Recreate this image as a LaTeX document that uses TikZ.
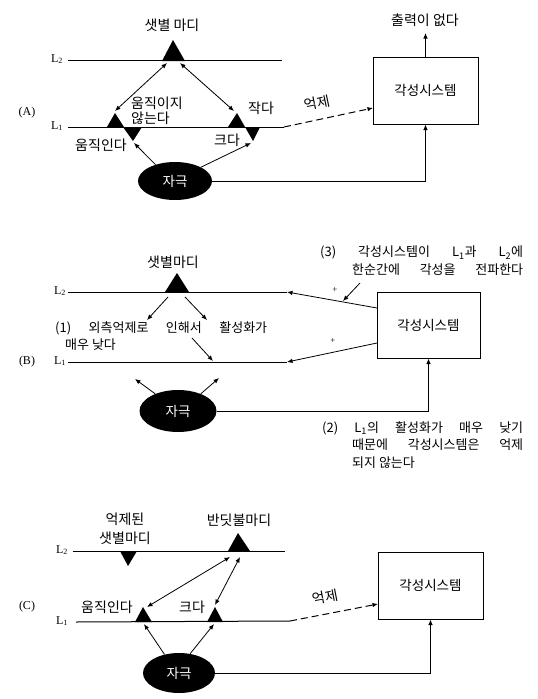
\documentclass[tikz,border=0pt]{standalone}
\usepackage{fontspec}
\setmainfont{Liberation Serif}
\newfontfamily\kr{Noto Sans CJK KR}
\usetikzlibrary{arrows.meta,shapes.geometric}
\begin{document}
\begin{tikzpicture}[x=1pt,y=-1pt,
  line/.style={line width=1pt},
  arr/.style={line width=0.8pt,-{Latex[length=5.5pt,width=4.5pt]}},
  darr/.style={line width=0.8pt,{Latex[length=5.5pt,width=4.5pt]}-{Latex[length=5.5pt,width=4.5pt]}},
  dasharr/.style={line width=1pt,dash pattern=on 7pt off 4pt,-{Latex[length=5.5pt,width=4.5pt]}},
  lab/.style={font=\kr\fontsize{14}{15}\selectfont, inner sep=0pt},
  para/.style={font=\kr\fontsize{13}{17.5}\selectfont, inner sep=0pt, align=left},
  lvl/.style={font=\fontsize{12}{14}\selectfont, inner sep=0pt},
  stim/.style={ellipse, fill=black, text=white, inner sep=0pt, font=\kr\fontsize{13.5}{15}\selectfont},
  sys/.style={draw, line width=1pt, inner sep=0pt, font=\kr\fontsize{13.5}{15}\selectfont}
]
\useasboundingbox[fill=white] (0,0) rectangle (538,699);

% ================= Panel A =================
\node[lvl] (A) at (27,113) {(A)};
\node[lvl] (LA2) at (57,59) {L\textsubscript{2}};
\node[lvl] (LA1) at (57,126) {L\textsubscript{1}};
\coordinate (a2s) at (68,60);  \coordinate (a2e) at (282,60);
\coordinate (a1s) at (68,127); \coordinate (a1e) at (284,127);
\draw[line] (a2s) -- (a2e);
\draw[line] (a1s) -- (a1e);
% triangles
\fill (162,61) -- (173,40) -- (185,61) -- cycle;
\fill (107,127) -- (115,113) -- (124,127) -- cycle;
\fill (123,127) -- (142,127) -- (133,141) -- cycle;
\fill (228,127) -- (237,113) -- (245,127) -- cycle;
\fill (245,127) -- (260,127) -- (253,141) -- cycle;
\coordinate (aTl) at (167,63); \coordinate (aTr) at (180,63);
\coordinate (aLup) at (115,111); \coordinate (aRup) at (234,111);
\coordinate (aLdn) at (134,143); \coordinate (aRdn) at (251,143);
\draw[darr] (aTl) -- (aLup);
\draw[darr] (aTr) -- (aRup);
\node[lab] (aTop) at (172,25) {샛별 마디};
\node[lab,align=left,anchor=west] (aNot) at (131,111) {움직이지\\않는다};
\node[lab] (aSmall) at (261,108) {작다};
\node[lab] (aMove) at (101,145) {움직인다};
\node[lab] (aBig) at (227,140) {크다};
% stimulus
\node[stim, minimum width=74pt, minimum height=38pt] (sA) at (175,181) {자극};
\draw[arr] (sA.140) -- (aLdn);
\draw[arr] (sA.28) -- (aRdn);
% arousal system
\node[sys, minimum width=105pt, minimum height=67pt] (bA) at (425.5,90.5) {각성시스템};
\draw[arr] (sA.east) -| (bA.south);
\coordinate (bAin) at (373,108);
\draw[dasharr] (a1e) -- (bAin);
\node[lab, rotate=12] (aInh) at (317,103) {억제};
\coordinate (aOut) at (425.5,33);
\draw[arr] (bA.north) -- (aOut);
\node[lab] (aNone) at (425,20) {출력이 없다};

% ================= Panel B =================
\node[lvl] (B) at (27,362) {(B)};
\node[lvl] (LB2) at (60,291) {L\textsubscript{2}};
\node[lvl] (LB1) at (60,361) {L\textsubscript{1}};
\coordinate (b2s) at (68,292);  \coordinate (b2e) at (287,292);
\coordinate (b1s) at (68,362);  \coordinate (b1e) at (287,362);
\draw[line] (b2s) -- (b2e);
\draw[line] (b1s) -- (b1e);
\fill (165,292) -- (177,273) -- (189,292) -- cycle;
\node[lab] (bTop) at (173,262) {샛별마디};
\coordinate (bTl) at (168,297); \coordinate (bTr) at (185,297);
\coordinate (bLt) at (147,320); \coordinate (bRt) at (207,320);
\draw[arr] (bTl) -- (bLt);
\draw[arr] (bTr) -- (bRt);
\node[para, anchor=north west] (t1) at (55,321)
  {\makebox[212pt][s]{(1) 외측억제로 인해서 활성화가}\\\hspace*{10pt}매우 낮다};
\coordinate (t1a) at (192,338); \coordinate (t1b) at (213,361);
\draw[arr] (t1a) -- (t1b);
\node[stim, minimum width=77pt, minimum height=42pt] (sB) at (178,411) {자극};
\coordinate (bLs) at (135,379); \coordinate (bRs) at (219,378);
\draw[arr] (sB.143) -- (bLs);
\draw[arr] (sB.37) -- (bRs);
\node[sys, minimum width=103pt, minimum height=66pt] (bB) at (428.5,325) {각성시스템};
\draw[arr] (sB.east) -| (bB.south);
\coordinate (bBo1) at (377,308); \coordinate (bBo2) at (377,343);
\draw[arr] (bBo1) -- (b2e);
\draw[arr] (bBo2) -- (b1e);
\node[lvl, font=\fontsize{9}{10}\selectfont] (p1) at (335,290) {+};
\node[lvl, font=\fontsize{9}{10}\selectfont] (p2) at (333,341) {+};
\node[para, anchor=north west] (t3) at (320,246)
  {\makebox[203pt][s]{(3) 각성시스템이 L\textsubscript{1}과 L\textsubscript{2}에}\\
   \hspace*{32pt}\makebox[171pt][s]{한순간에 각성을 전파한다}};
\coordinate (t3a) at (360,283); \coordinate (t3b) at (343,301);
\draw[arr] (t3a) -- (t3b);
\node[para, anchor=north west] (t2) at (322,421)
  {\makebox[201pt][s]{(2) L\textsubscript{1}의 활성화가 매우 낮기}\\
   \hspace*{30pt}\makebox[171pt][s]{때문에 각성시스템은 억제}\\
   \hspace*{30pt}되지 않는다};

% ================= Panel C =================
\node[lvl] (C) at (27,607) {(C)};
\node[lvl] (LC2) at (62,550) {L\textsubscript{2}};
\node[lvl] (LC1) at (62,621) {L\textsubscript{1}};
\coordinate (c2s) at (73,551);  \coordinate (c2e) at (285,551);
\coordinate (c1s) at (76,622);  \coordinate (c1e) at (290,621);
\draw[line] (c2s) -- (c2e);
\draw[line] (c1s) -- (c1e);
\fill (120,551) -- (137,551) -- (128,566) -- cycle;
\fill (228,551) -- (238,533) -- (250,551) -- cycle;
\fill (135,622) -- (143,607) -- (152,622) -- cycle;
\fill (207,622) -- (215,607) -- (223,622) -- cycle;
\node[lab, align=center, font=\kr\fontsize{14}{19}\selectfont] (cInhT) at (125,529) {억제된\\샛별마디};
\node[lab] (cFire) at (239,520) {반딧불마디};
\node[lab] (cMove) at (107,607) {움직인다};
\node[lab] (cBig) at (192,607) {크다};
\coordinate (cT1) at (230,557); \coordinate (cT2) at (240,557);
\coordinate (cL) at (147,607); \coordinate (cR) at (215,605);
\draw[darr] (cT1) -- (cL);
\draw[darr] (cT2) -- (cR);
\node[stim, minimum width=72pt, minimum height=40pt] (sC) at (179,673) {자극};
\coordinate (cLs) at (144,624); \coordinate (cRs) at (214,624);
\draw[arr] (sC.128) -- (cLs);
\draw[arr] (sC.60) -- (cRs);
\node[sys, minimum width=105pt, minimum height=67pt] (bC) at (430.5,585.5) {각성시스템};
\draw[arr] (sC.east) -| (bC.south);
\coordinate (bCin) at (378,604);
\draw[dasharr] (c1e) -- (bCin);
\node[lab, rotate=11] (cInh) at (325,597) {억제};
\end{tikzpicture}
\end{document}
